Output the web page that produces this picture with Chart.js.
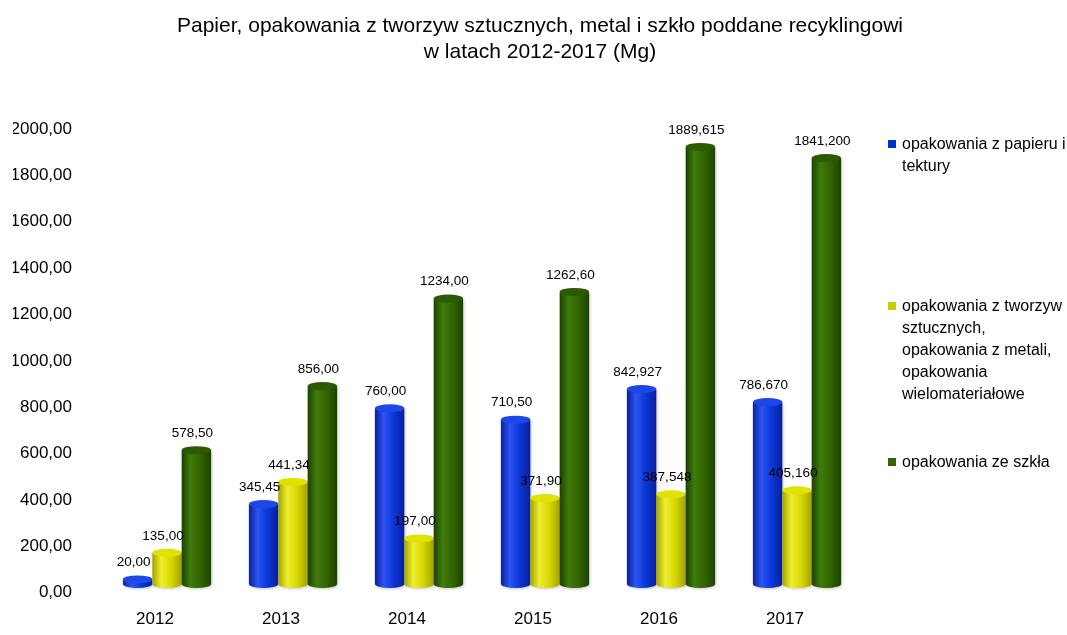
<!DOCTYPE html>
<html>
<head>
<meta charset="utf-8">
<script src="https://cdn.jsdelivr.net/npm/chart.js@4.4.1/dist/chart.umd.min.js"></script>
<style>
  html, body { margin: 0; padding: 0; background: #fff; }
  #wrap { width: 1067px; height: 635px; }
</style>
</head>
<body>
<div id="wrap"><canvas id="chart"></canvas></div>
<script>
const years = ["2012", "2013", "2014", "2015", "2016", "2017"];
const paper = [20.00, 345.45, 760.00, 710.50, 842.927, 786.670];
const plastic = [135.00, 441.34, 197.00, 371.90, 387.548, 405.160];
const glass = [578.50, 856.00, 1234.00, 1262.60, 1889.615, 1841.200];
const decimals = [2, 2, 2, 2, 3, 3];
const yTicks = [0, 200, 400, 600, 800, 1000, 1200, 1400, 1600, 1800, 2000];
const seriesNames = [
  ["opakowania z papieru i", "tektury"],
  ["opakowania z tworzyw", "sztucznych,", "opakowania z metali,", "opakowania", "wielomateriałowe"],
  ["opakowania ze szkła"],
];
const titleLines = [
  "Papier, opakowania z tworzyw sztucznych, metal i szkło poddane recyklingowi",
  "w latach 2012-2017 (Mg)",
];

const FONT = "'Liberation Sans', Arial, sans-serif";
const palettes = [
  { dark: "#0a1f9a", light: "#2c55f2", mid: "#0a36d6", top: "#1d48e8", key: "#0033cc" },
  { dark: "#a3a300", light: "#eeee30", mid: "#d6d600", top: "#e2e200", key: "#cccc00" },
  { dark: "#1c4200", light: "#3f7b0b", mid: "#326400", top: "#2b5a00", key: "#336600" },
];

const fmt = (v, d) => v.toFixed(d).replace(".", ",");

// cylinders drawn from the bar elements, then value labels on top
const cylinders = {
  id: "cylinders",
  afterDatasetsDraw(chart) {
    const ctx = chart.ctx;
    const ry = 4;
    chart.data.datasets.forEach((ds, di) => {
      const pal = palettes[di];
      chart.getDatasetMeta(di).data.forEach((bar) => {
        const { x, y, base, width } = bar.getProps(["x", "y", "base", "width"], true);
        const l = x - width / 2, r = x + width / 2;
        const g = ctx.createLinearGradient(l, 0, r, 0);
        g.addColorStop(0, pal.dark);
        g.addColorStop(0.3, pal.light);
        g.addColorStop(0.65, pal.mid);
        g.addColorStop(1, pal.dark);
        ctx.save();
        ctx.shadowColor = "rgba(0,0,0,0.22)";
        ctx.shadowBlur = 3;
        ctx.shadowOffsetX = 1;
        ctx.shadowOffsetY = 1;
        ctx.beginPath();
        ctx.moveTo(l, y);
        ctx.lineTo(l, base);
        ctx.ellipse(x, base, width / 2, ry, 0, Math.PI, 0, true);
        ctx.lineTo(r, y);
        ctx.closePath();
        ctx.fillStyle = g;
        ctx.fill();
        ctx.restore();
        ctx.beginPath();
        ctx.ellipse(x, y, width / 2, ry, 0, 0, Math.PI * 2);
        ctx.fillStyle = pal.top;
        ctx.fill();
      });
    });

    ctx.save();
    ctx.fillStyle = "#000";
    ctx.font = "13.5px " + FONT;
    ctx.textAlign = "center";
    ctx.textBaseline = "middle";
    chart.data.datasets.forEach((ds, di) => {
      chart.getDatasetMeta(di).data.forEach((bar, i) => {
        ctx.fillText(fmt(ds.data[i], decimals[i]), bar.x - 4, bar.y - 17);
      });
    });
    ctx.restore();
  },
};

const sideLegend = {
  id: "sideLegend",
  afterDraw(chart, args, opts) {
    const ctx = chart.ctx;
    ctx.save();
    ctx.font = "16px " + FONT;
    ctx.textBaseline = "middle";
    ctx.textAlign = "left";
    chart.data.datasets.forEach((ds, di) => {
      const top = opts.tops[di];
      ctx.fillStyle = palettes[di].key;
      ctx.fillRect(opts.x, top, 8, 8);
      ctx.fillStyle = "#000";
      seriesNames[di].forEach((line, k) => {
        ctx.fillText(line, opts.x + 14, top + 5 + k * 21.8);
      });
    });
    ctx.restore();
  },
};

Chart.defaults.font.family = FONT;
Chart.defaults.color = "#000";

new Chart(document.getElementById("chart"), {
  type: "bar",
  data: {
    labels: years,
    datasets: [paper, plastic, glass].map((d, i) => ({
      label: seriesNames[i].join(" "),
      data: d,
      yAxisID: "yb",
      backgroundColor: "rgba(0,0,0,0)",
      borderWidth: 0,
      categoryPercentage: 0.7,
      barPercentage: 1.0,
    })),
  },
  options: {
    responsive: true,
    maintainAspectRatio: false,
    animation: false,
    events: [],
    layout: { padding: { left: 13, right: 0, top: 0, bottom: 0 } },
    plugins: {
      legend: { display: false },
      tooltip: { enabled: false },
      title: {
        display: true,
        text: titleLines,
        color: "#000",
        font: { family: FONT, size: 21, weight: "normal", lineHeight: "26px" },
        padding: { top: 13, bottom: 64 },
      },
      sideLegend: { x: 888, tops: [140, 302, 458] },
    },
    scales: {
      x: {
        grid: { display: false, drawTicks: false },
        border: { display: false },
        ticks: { font: { size: 17 }, padding: 16, labelOffset: -12, maxRotation: 0, autoSkip: false },
        afterFit(s) { s.height = 35; },
      },
      y: {
        position: "left",
        min: 0,
        max: 2000,
        grid: { display: false, drawTicks: false },
        border: { display: false },
        ticks: { font: { size: 17 }, padding: 32, callback: (v) => fmt(v, 2) },
        afterBuildTicks(s) { s.ticks = yTicks.map((v) => ({ value: v })); },
        afterFit(s) { s.width = 91; },
      },
      yb: {
        position: "right",
        min: -38,
        max: 1967,
        grid: { display: false, drawTicks: false },
        border: { display: false },
        ticks: { display: false },
        afterFit(s) { s.width = 207; },
      },
    },
  },
  plugins: [cylinders, sideLegend],
});
</script>
</body>
</html>
